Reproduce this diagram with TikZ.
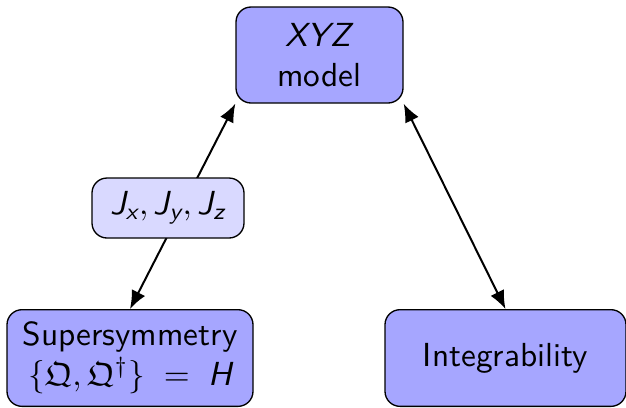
\documentclass[tikz,border=0pt]{standalone}
\usepackage{amsmath}
\usepackage{amssymb}
\usetikzlibrary{arrows.meta,positioning}
\renewcommand{\familydefault}{\sfdefault}
\newcommand{\sit}[1]{\textit{#1}}
\tikzset{
	bigbox/.style={draw, rounded corners=4.5pt, fill=blue!35, align=center, inner sep=0pt},
	smallbox/.style={draw, rounded corners=4.5pt, fill=blue!15, inner sep=0pt},
	link/.style={semithick, {Latex[length=5.5pt,width=4.5pt]}-{Latex[length=5.5pt,width=4.5pt]}},
}
\begin{document}
\begin{tikzpicture}[x=0.3pt,y=-0.3pt]
	\useasboundingbox (0,0) rectangle (626,407);
	\node[bigbox, minimum width=50.1pt, minimum height=28.8pt] (xyz) at (319.5,55) {\sit{XYZ}\\model};
	\node[bigbox, minimum width=73.8pt, minimum height=29pt] (susy) at (130,358) {Supersymmetry\\$\{\mathfrak{Q},\mathfrak{Q}^\dagger\}\;=\;\sit{H}$};
	\node[bigbox, minimum width=72.3pt, minimum height=29pt] (integ) at (505.5,358) {Integrability};
	\draw[link] (susy.north) -- (xyz.south west);
	\draw[link] (integ.north) -- (xyz.south east);
	\node[smallbox, minimum width=45.6pt, minimum height=18pt] (coupl) at (168,208) {$\sit{J}_{\sit{x}}, \sit{J}_{\sit{y}}, \sit{J}_{\sit{z}}$};
\end{tikzpicture}
\end{document}
